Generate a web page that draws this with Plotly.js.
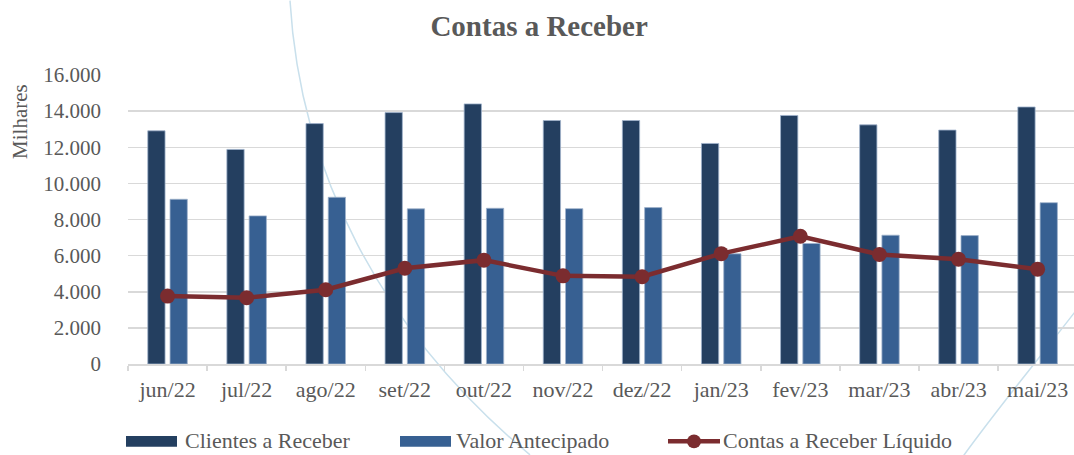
<!DOCTYPE html>
<html>
<head>
<meta charset="utf-8">
<script src="https://cdn.plot.ly/plotly-3.0.1.min.js"></script>
<style>html,body{margin:0;padding:0;background:#fff;}#chart{width:1074px;height:455px;}</style>
</head>
<body>
<div id="chart"></div>
<script>
const months = ["jun/22","jul/22","ago/22","set/22","out/22","nov/22","dez/22","jan/23","fev/23","mar/23","abr/23","mai/23"];
const clientesReceber = [12910, 11880, 13310, 13920, 14400, 13480, 13480, 12210, 13760, 13240, 12950, 14230];
const valorAntecipado = [9120, 8200, 9230, 8590, 8620, 8600, 8660, 6100, 6670, 7130, 7110, 8930];
const contasLiquido = [3760, 3670, 4110, 5300, 5750, 4880, 4830, 6110, 7070, 6060, 5800, 5250];
const seriesNames = ["Clientes a Receber", "Valor Antecipado", "Contas a Receber Líquido"];
const chartTitle = "Contas a Receber";
const unitLabel = "Milhares";

const C_DARK = "#243F60", C_LIGHT = "#376092", C_LINE = "#7B2C2F";
const FONT = "Liberation Serif, Times New Roman, serif";
const TXT = "#595959";

// plot area in pixels
const L = 128, R = 1074, T = 74.5, B = 364;
const px = x => (x - L) / (R - L);
const py = y => (B - y) / (B - T);

const traces = [
  {type:"bar", x: months, y: clientesReceber, name: seriesNames[0],
   marker:{color:C_DARK, line:{color:"#9fb3cc", width:0.8}}, showlegend:false},
  {type:"bar", x: months, y: valorAntecipado, name: seriesNames[1],
   marker:{color:C_LIGHT, line:{color:"#9fb3cc", width:0.8}}, showlegend:false},
  {type:"scatter", mode:"lines+markers", x: months, y: contasLiquido, name: seriesNames[2],
   line:{color:C_LINE, width:4.5}, marker:{color:C_LINE, size:15}, showlegend:false}
];

const shapes = [
  // decorative background arcs
  {type:"path", xref:"paper", yref:"paper", layer:"below",
   path:`M ${px(290)} ${py(0)} C ${px(300)} ${py(170)}, ${px(380)} ${py(330)}, ${px(530)} ${py(455)}`,
   line:{color:"#c9e0ec", width:1.5}},
  {type:"path", xref:"paper", yref:"paper", layer:"below",
   path:`M ${px(1084)} ${py(300)} C ${px(1050)} ${py(345)}, ${px(1000)} ${py(405)}, ${px(962)} ${py(458)}`,
   line:{color:"#c9e0ec", width:1.5}},
  // custom legend swatches
  {type:"rect", xref:"paper", yref:"paper", x0:px(126), x1:px(177), y0:py(447), y1:py(436),
   fillcolor:C_DARK, line:{width:0}},
  {type:"rect", xref:"paper", yref:"paper", x0:px(400), x1:px(451), y0:py(447), y1:py(436),
   fillcolor:C_LIGHT, line:{width:0}},
  {type:"line", xref:"paper", yref:"paper", x0:px(668), x1:px(720), y0:py(441.5), y1:py(441.5),
   line:{color:C_LINE, width:4.5}},
  {type:"circle", xref:"paper", yref:"paper", x0:px(687), x1:px(701), y0:py(448.5), y1:py(434.5),
   fillcolor:C_LINE, line:{width:0}}
];

const legendX = [183, 454, 721];
const annotations = seriesNames.map((n, i) => ({
  text: n, xref:"paper", yref:"paper", x: px(legendX[i]), y: py(441), xanchor:"left", yanchor:"middle",
  showarrow:false, font:{family:FONT, size:22, color:TXT}
}));
annotations.push({text: unitLabel, xref:"paper", yref:"paper", x: px(20.5), y: py(121),
  textangle:-90, xanchor:"center", yanchor:"middle", showarrow:false,
  font:{family:FONT, size:21, color:TXT}});

const layout = {
  width:1074, height:455,
  margin:{l:L, r:0, t:T, b:455-B, pad:0},
  paper_bgcolor:"#ffffff", plot_bgcolor:"rgba(0,0,0,0)",
  separators:",.",
  title:{text:"<b>"+chartTitle+"</b>", x:0.502, xref:"container", xanchor:"center",
         y:1-26/455, yref:"container", yanchor:"middle",
         font:{family:FONT, size:29, color:TXT}},
  barmode:"group", bargap:0.437, bargroupgap:0.224,
  xaxis:{type:"category", range:[-0.5, 11.46], showgrid:false, showline:true, linecolor:"#d9d9d9", linewidth:1.5,
         ticks:"outside", tickson:"boundaries", ticklen:5, tickcolor:"#d9d9d9", tickwidth:1.5,
         ticklabelstandoff:5,
         tickfont:{family:FONT, size:22, color:TXT}, fixedrange:true},
  yaxis:{range:[0,16000], dtick:2000, tickformat:",d", showgrid:true, gridcolor:"#d9d9d9", gridwidth:1.5,
         zeroline:false, showline:false, ticks:"", ticklabelstandoff:26,
         tickfont:{family:FONT, size:21, color:TXT}, fixedrange:true},
  shapes: shapes, annotations: annotations, showlegend:false
};

Plotly.newPlot("chart", traces, layout, {displayModeBar:false, staticPlot:true});
</script>
</body>
</html>
